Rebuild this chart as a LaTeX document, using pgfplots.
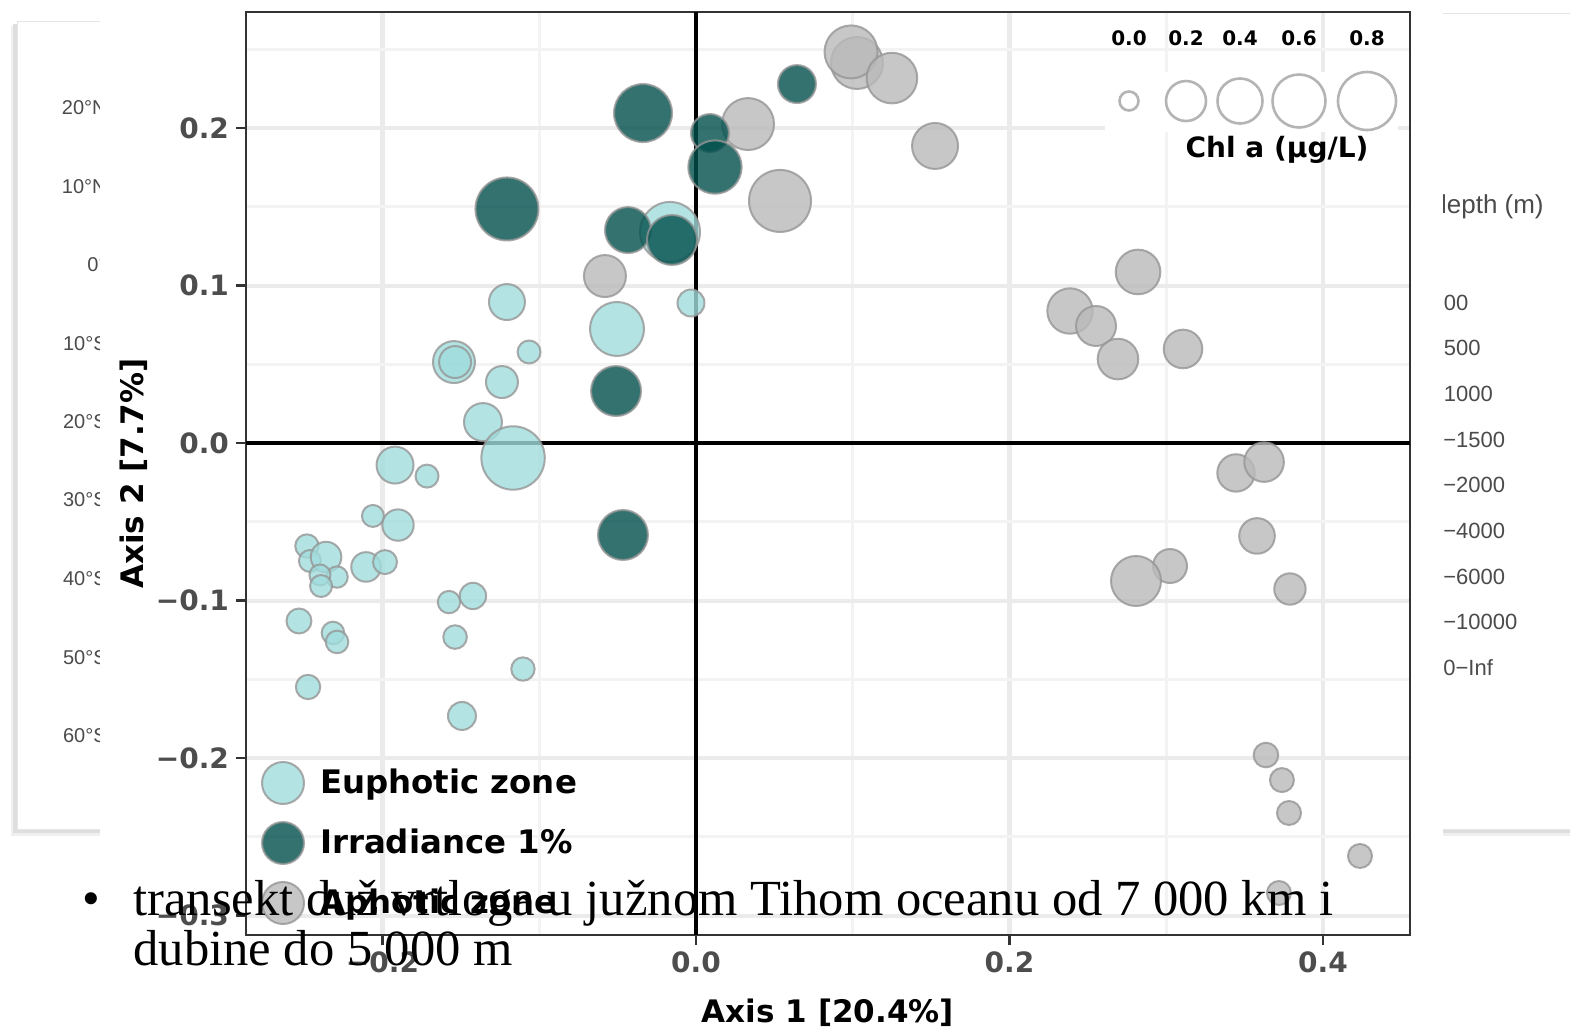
\documentclass[border=0pt]{standalone}
\usepackage{pgfplots}
\pgfplotsset{compat=1.18}
\usepackage{fontspec}
\setmainfont{Liberation Serif}
\newfontfamily\djs{DejaVu Sans}
\newfontfamily\lsans{Liberation Sans}
\definecolor{eucol}{RGB}{160,220,220}
\definecolor{tealc}{RGB}{0,79,76}
\definecolor{aphc}{RGB}{186,186,186}
\definecolor{bord}{RGB}{150,150,150}
\definecolor{tickgray}{RGB}{77,77,77}
\definecolor{frame}{RGB}{51,51,51}
\definecolor{gmaj}{RGB}{235,235,235}
\definecolor{gmin}{RGB}{243,243,243}
\definecolor{bgtxt}{RGB}{75,75,75}
\definecolor{keyc}{RGB}{180,180,180}

\pgfplotsset{
  bub/.style={only marks, scatter, mark=*, forget plot,
    scatter/use mapped color={draw=bord, fill=#1},
    visualization depends on={(\thisrow{r}-1)*0.5 \as \msize},
    scatter/@pre marker code/.append style={/tikz/mark size=\msize pt},
    mark options={line width=1pt, fill opacity=0.8, draw opacity=0.8}},
}

\pgfplotstableread{
x y r
-0.1206 0.0895 19
-0.1544 0.0514 22
-0.1537 0.0514 17
-0.1065 0.0578 12.5
-0.1238 0.0387 17
-0.0504 0.0724 28
-0.0032 0.0889 14.5
-0.1359 0.0133 20
-0.1167 -0.0095 32.7
-0.1920 -0.0140 19.5
-0.1716 -0.0210 12.5
-0.2061 -0.0463 12
-0.1901 -0.0521 16.7
-0.2482 -0.0654 12.7
-0.2463 -0.0749 12
-0.2360 -0.0724 16.3
-0.2290 -0.0851 11.7
-0.2399 -0.0838 11.5
-0.2392 -0.0908 12
-0.2105 -0.0787 15.8
-0.1984 -0.0756 13
-0.1576 -0.1010 12.2
-0.1423 -0.0971 14.2
-0.2533 -0.1130 13.5
-0.2316 -0.1206 12.3
-0.2290 -0.1263 12.3
-0.1537 -0.1232 12.8
-0.1104 -0.1435 12.7
-0.2475 -0.1549 13.2
-0.1493 -0.1733 15
-0.0166 0.1340 31
}\euphotic

\pgfplotstableread{
x y r
-0.0581 0.1060 22
0.0332 0.2025 27
0.0536 0.1537 32
0.1027 0.2413 27
0.0989 0.2483 27.5
0.1250 0.2317 26.3
0.1525 0.1886 24
0.2820 0.1086 23.3
0.2386 0.0838 23.7
0.2552 0.0743 21
0.2692 0.0533 21.3
0.3107 0.0597 20.3
0.3445 -0.0190 19.7
0.3624 -0.0121 20.8
0.3579 -0.0590 18.8
0.3024 -0.0781 18
0.2807 -0.0876 26
0.3789 -0.0927 16.7
0.3636 -0.1981 13.3
0.3738 -0.2140 13
0.3783 -0.2349 13
0.4236 -0.2622 13
0.3719 -0.2857 13
}\aphotic

\pgfplotstableread{
x y r
-0.0338 0.2095 30
0.0089 0.1968 20
0.0121 0.1752 27.7
0.0644 0.2279 20
-0.1206 0.1486 32.5
-0.0434 0.1352 24
-0.0153 0.1289 26
-0.0510 0.0330 26
-0.0466 -0.0584 26
}\irradiance

\begin{document}
\begin{tikzpicture}
\path[use as bounding box] (0,0) rectangle (785pt,-517.5pt);
\begin{scope}[x=0.5pt,y=-0.5pt]
  \fill[white] (0,0) rectangle (1570,1035);
  % left slide panel
  \fill[black!6] (11,26) rectangle (120,836);
  \fill[black!13] (13,24) rectangle (120,833);
  \fill[white, draw=black!10, line width=0.4pt] (17,21) rectangle (120,829);
  % right slide panel
  \fill[black!6] (1420,18) rectangle (1580,836);
  \fill[black!13] (1420,16) rectangle (1580,833);
  \fill[white, draw=black!10, line width=0.4pt] (1420,13) rectangle (1580,829);
  \foreach \yy/\lab in {108/20°N,187/10°N,265/0°,344/10°S,422/20°S,500/30°S,579/40°S,658/50°S,736/60°S}
    \node[anchor=east, inner sep=0pt, font=\lsans\fontsize{10}{12}\selectfont, text=bgtxt] at (107,\yy) {\lab};
  \node[anchor=west, inner sep=0pt, font=\lsans\fontsize{13}{15}\selectfont, text=bgtxt] at (1432,207) {depth (m)};
  \foreach \yy/\lab in {257/0−50,303/50−100,348/100−500,394/500−1000,440/1000−1500,485/1500−2000,531/2000−4000,577/4000−6000,622/6000−10000,668/10000−Inf}
    \node[anchor=west, inner sep=0pt, font=\lsans\fontsize{11}{13}\selectfont, text=bgtxt] at (1394,\yy) {\lab};
  % chart image
  \fill[white] (100,0) rectangle (1443,1035);
\end{scope}

\begin{axis}[
  at={(123pt,-467.5pt)}, anchor=south west, scale only axis,
  width=582pt, height=461.5pt,
  xmin=-0.28708, xmax=0.4555, ymin=-0.31238, ymax=0.27365,
  xtick={-0.2,0,0.2,0.4}, xticklabels={−0.2,0.0,0.2,0.4},
  ytick={-0.3,-0.2,-0.1,0,0.1,0.2}, yticklabels={−0.3,−0.2,−0.1,0.0,0.1,0.2},
  minor xtick={-0.1,0.1,0.3}, minor ytick={-0.25,-0.15,-0.05,0.05,0.15,0.25},
  grid=both,
  major x grid style={color=gmaj, line width=2.4pt},
  major y grid style={color=gmaj, line width=2pt},
  minor x grid style={color=gmin, line width=1.5pt},
  minor y grid style={color=gmin, line width=1.3pt},
  tick pos=left, tick align=outside, major tick length=5pt, minor tick length=0pt,
  major tick style={color=frame, line width=1.4pt},
  axis line style={color=frame, line width=1.3pt},
  ticklabel style={font=\djs\bfseries\fontsize{14}{16}\selectfont, text=tickgray},
  xlabel={Axis 1 [20.4\%]}, ylabel={Axis 2 [7.7\%]},
  label style={font=\djs\bfseries\fontsize{15.5}{18}\selectfont, text=black},
  xlabel style={at={(axis description cs:0.5,-0.0845)}, anchor=center},
  ylabel style={at={(axis description cs:-0.0962,0.5)}, anchor=center},
  legend style={at={(axis cs:-0.2775,-0.2019)}, anchor=north west, draw=none, fill=none,
    inner sep=0pt, outer sep=0pt, row sep=8pt,
    font=\djs\bfseries\fontsize{16.2}{18}\selectfont,
    nodes={inner sep=0pt}},
  legend cell align=left,
]
\draw[black, line width=2pt] (axis cs:0,-0.31238) -- (axis cs:0,0.27365);
\draw[black, line width=1.6pt] (axis cs:-0.28708,0) -- (axis cs:0.4555,0);

\addplot[bub=eucol] table[x=x,y=y,meta=r] {\euphotic};
\addplot[bub=aphc] table[x=x,y=y,meta=r] {\aphotic};
\addplot[bub=tealc] table[x=x,y=y,meta=r] {\irradiance};

\addlegendimage{legend image code/.code={\path[draw=none] (0pt,0pt) -- (29.5pt,0pt);
  \filldraw[fill=eucol, draw=bord, line width=1pt, fill opacity=0.8, draw opacity=0.8] (11pt,0pt) circle (10.5pt);}}
\addlegendentry{Euphotic zone}
\addlegendimage{legend image code/.code={\path[draw=none] (0pt,0pt) -- (29.5pt,0pt);
  \filldraw[fill=tealc, draw=bord, line width=1pt, fill opacity=0.8, draw opacity=0.8] (11pt,0pt) circle (10.5pt);}}
\addlegendentry{Irradiance 1\%}
\addlegendimage{legend image code/.code={\path[draw=none] (0pt,0pt) -- (29.5pt,0pt);
  \filldraw[fill=aphc, draw=bord, line width=1pt, fill opacity=0.8, draw opacity=0.8] (11pt,0pt) circle (10.5pt);}}
\addlegendentry{Aphotic zone}
\end{axis}

\begin{scope}[x=0.5pt,y=-0.5pt]
  % Chl a size legend
  \fill[white] (1105,72) rectangle (1398,132);
  \foreach \cx/\rr/\lab in {1129/9.5/0.0,1186/20/0.2,1240/22.5/0.4,1299/26.5/0.6,1367/29/0.8} {
    \draw[keyc, line width=1.3pt] (\cx,101) circle[radius=\rr];
    \node[inner sep=0pt, font=\djs\bfseries\fontsize{10}{12}\selectfont] at (\cx,38) {\lab};
  }
  \node[inner sep=0pt, font=\djs\bfseries\fontsize{14}{16}\selectfont] at (1277,150) {Chl a (µg/L)};
  % slide bullet text
  \node[anchor=base west, inner sep=0pt, font=\fontsize{25.3}{30}\selectfont] at (82,915) {•};
  \node[anchor=base west, inner sep=0pt, font=\fontsize{25.3}{30}\selectfont] at (133,915) {transekt duž vrtloga u južnom Tihom oceanu od 7 000 km i};
  \node[anchor=base west, inner sep=0pt, font=\fontsize{25.3}{30}\selectfont] at (133,965) {dubine do 5 000 m};
\end{scope}
\end{tikzpicture}
\end{document}
